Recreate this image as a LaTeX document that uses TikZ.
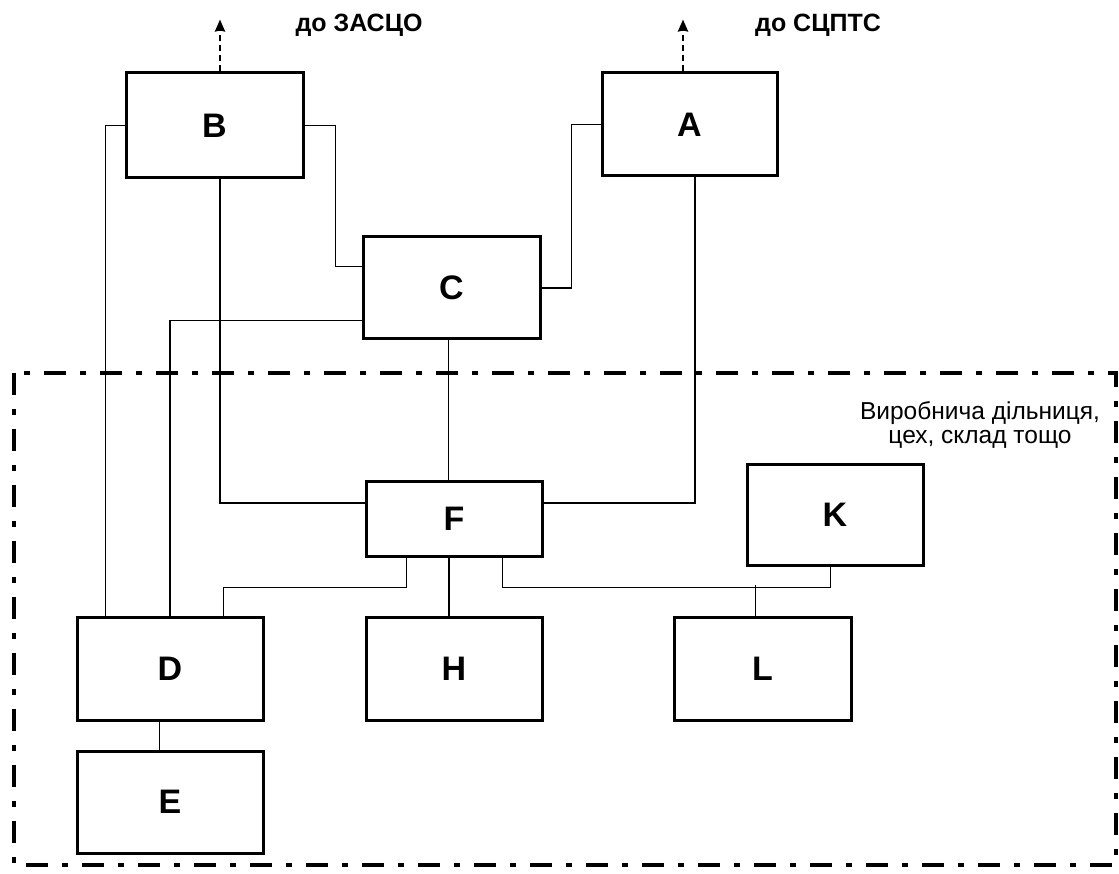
\documentclass[tikz,border=0pt]{standalone}
\usepackage{fontspec}
\setmainfont{Liberation Sans}
\usetikzlibrary{calc,arrows.meta}
\tikzset{
  box/.style={draw, line width=3pt, inner sep=0pt, font=\fontsize{34}{34}\selectfont\bfseries},
  conn/.style={line width=1.7pt},
  upar/.style={line width=2.5pt, dash pattern=on 6pt off 4pt, -{Stealth[length=12pt,width=10pt,inset=1pt]}},
  zone/.style={line width=4.5pt, dash pattern=on 22pt off 14pt on 6pt off 14pt},
  dest/.style={font=\fontsize{25}{25}\selectfont\bfseries},
}
\begin{document}
\begin{tikzpicture}[x=1pt,y=-1pt]
\useasboundingbox (0,0) rectangle (1119,874);
% zone border
\draw[zone] (14,373) rectangle (1116,865);
\node[align=center, font=\fontsize{24.5}{24}\selectfont] (zonelbl) at (980,425) {Виробнича дільниця,\\цех, склад тощо};
% boxes
\node[box, minimum width=177pt, minimum height=105pt] (B) at (214.5,125.5) {B};
\node[box, minimum width=175pt, minimum height=103pt] (A) at (689.5,124.5) {A};
\node[box, minimum width=177pt, minimum height=102pt] (C) at (451.5,288) {C};
\node[box, minimum width=176pt, minimum height=75pt] (F) at (454,518.5) {F};
\node[box, minimum width=176pt, minimum height=101pt] (K) at (835,514.5) {K};
\node[box, minimum width=186pt, minimum height=103pt] (D) at (170,668.5) {D};
\node[box, minimum width=176pt, minimum height=103pt] (H) at (454,668.5) {H};
\node[box, minimum width=177pt, minimum height=103pt] (L) at (762.5,668.5) {L};
\node[box, minimum width=186pt, minimum height=102pt] (E) at (170,802) {E};
% external arrows and labels
\draw[upar] ($(B.north)+(5.5,0)$) -- ++(0,-52) coordinate (Btip);
\draw[upar] ($(A.north)+(-6.5,0)$) -- ++(0,-52) coordinate (Atip);
\node[dest] (zasco) at (359,25) {до ЗАСЦО};
\node[dest] (scpts) at (818,25) {до СЦПТС};
% connectors
\draw[conn] (B.west) -| ($(D.north west)+(30,0)$);
\draw[conn] (B.east) -- ++(31,0) |- ($(C.north west)+(0,31)$);
\draw[conn] ($(B.south)+(5.5,0)$) |- ($(F.west)+(0,-15.5)$);
\draw[conn] (A.west) -| ($(C.east)+(30,0)$) -- (C.east);
\draw[conn] ($(A.south)+(5.5,0)$) |- ($(F.east)+(0,-15.5)$);
\draw[conn] ($(C.south west)+(0,-20)$) -| (D.north);
\draw[conn] ($(C.south)+(-3,0)$) -- ($(F.north)+(-5.5,0)$);
\draw[conn] ($(F.south west)+(42,0)$) -- ++(0,30) -| ($(D.north east)+(-41,0)$);
\draw[conn] ($(F.south)+(-5,0)$) -- ($(H.north)+(-5,0)$);
\draw[conn] ($(F.south east)+(-41,0)$) -- ++(0,30) -| ($(K.south east)+(-94,0)$);
\draw[conn] ($(L.north west)+(83,0)$) -- ++(0,-31);
\draw[conn] ($(D.south west)+(84,0)$) -- ($(E.north west)+(84,0)$);
\end{tikzpicture}
\end{document}
